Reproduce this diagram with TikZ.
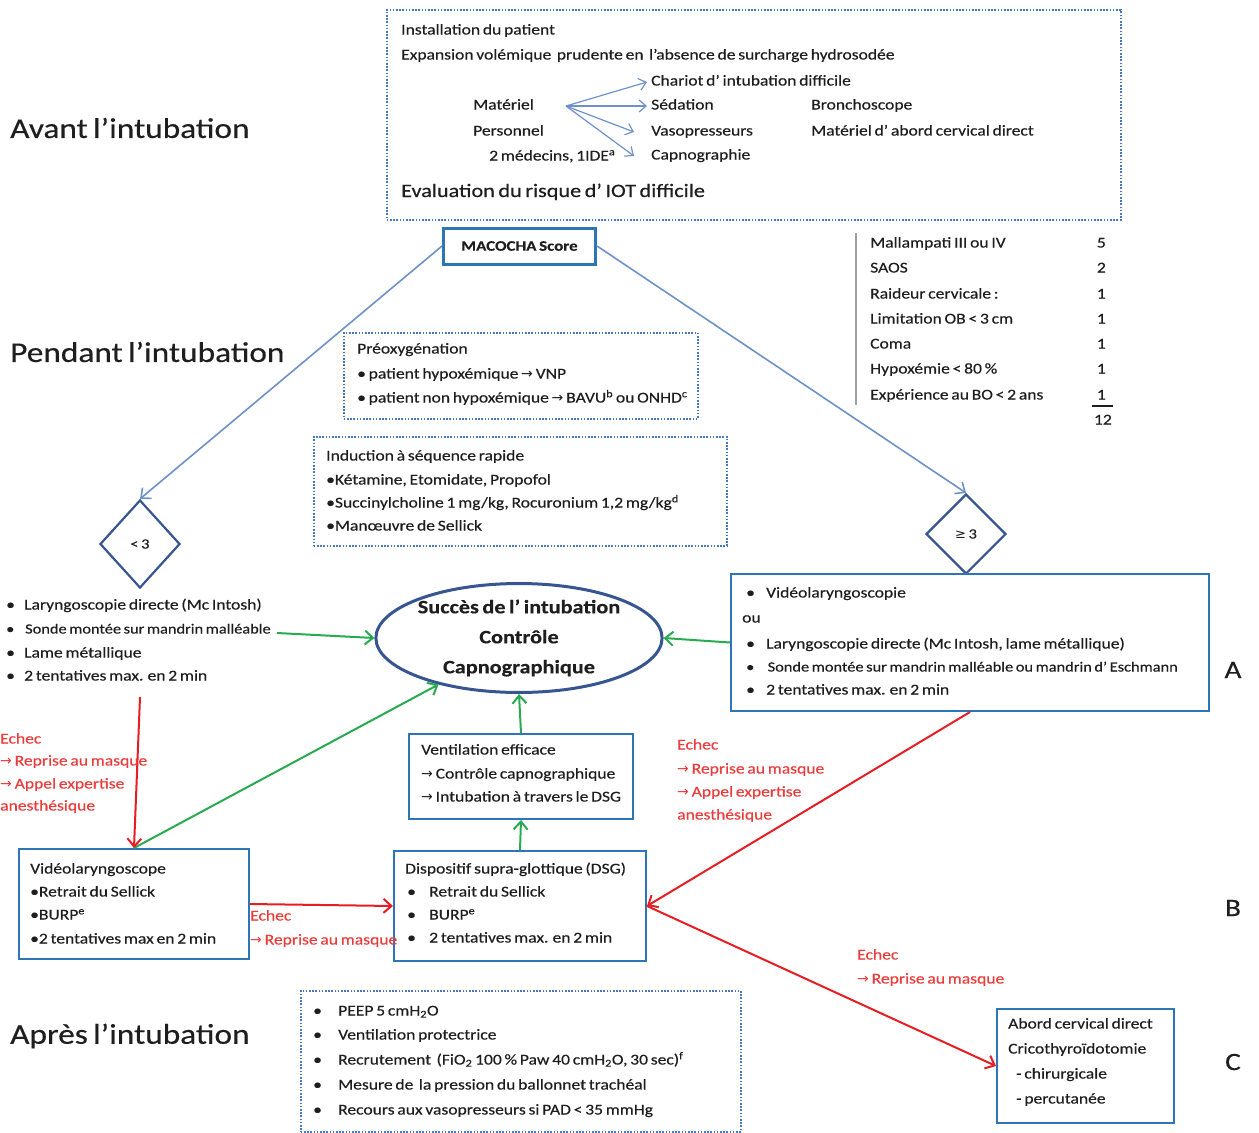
\documentclass[tikz,border=0pt]{standalone}
\usepackage{fontspec}
\setmainfont{Carlito}[FakeStretch=1.17,WordSpace=0.7,FakeBold=0.4]
\newfontfamily\dejavu{DejaVu Sans}
\usetikzlibrary{arrows.meta,shapes.geometric}
\definecolor{bxblue}{RGB}{46,117,182}
\definecolor{dotblue}{RGB}{70,120,195}
\definecolor{lnblue}{RGB}{110,145,200}
\definecolor{dkblue}{RGB}{55,85,145}
\definecolor{grn}{RGB}{40,170,80}
\definecolor{rd}{RGB}{230,30,35}
\definecolor{rdtxt}{RGB}{235,60,60}
\definecolor{txt}{RGB}{30,30,30}
\newcommand\myarr{{\dejavu\fontsize{14}{14}\selectfont →}}
\newcommand\bul[1]{\makebox[#1][l]{•}}
\newcommand\Tx[5][]{\node[tx,#1] (#2) at (#3,#4) {#5};}
\begin{document}
\begin{tikzpicture}[x=1pt,y=-1pt,
  tx/.style={anchor=west,inner sep=0pt,text height=10pt,text depth=3pt,text=txt,font=\fontsize{15}{17}\selectfont},
  hd/.style={anchor=west,inner sep=0pt,text=txt,font=\fontsize{28.5}{31}\selectfont},
  lab/.style={inner sep=0pt,text=txt,font=\fontsize{25}{27}\selectfont},
  red/.style={text=rdtxt},
  solidbox/.style={draw=bxblue,line width=2pt,rectangle,anchor=north west,inner sep=0pt},
  dotbox/.style={draw=dotblue,line width=1.6pt,dash pattern=on 1.6pt off 1.6pt,rectangle,anchor=north west,inner sep=0pt},
  dia/.style={draw=dkblue,line width=2.2pt,diamond,inner sep=0pt,text=txt,font=\fontsize{14}{15}\selectfont},
  lbarrow/.style={draw=lnblue,line width=1.2pt,-{Straight Barb[length=7pt,width=12pt]}},
  barrow/.style={draw=lnblue,line width=1.6pt,-{Straight Barb[length=8pt,width=14pt]}},
  garrow/.style={draw=grn,line width=2pt,-{Straight Barb[length=8pt,width=14pt]}},
  rarrow/.style={draw=rd,line width=2pt,-{Straight Barb[length=8pt,width=14pt]}}]
\useasboundingbox (0,0) rectangle (1259,1133);

% headings
\node[hd] (h1) at (10,128) {Avant l’intubation};
\node[hd] (h2) at (10,352) {Pendant l’intubation};
\node[hd] (h3) at (10,1036) {Après l’intubation};
\node[lab] (la) at (1233,670) {A};
\node[lab] (lb) at (1233,908) {B};
\node[lab] (lc) at (1233,1062) {C};

% top dotted box
\node[dotbox,minimum width=734pt,minimum height=210pt] (topbox) at (386,9) {};
\Tx{t1}{401}{31}{Installation du patient}
\Tx{t2}{401}{56}{Expansion volémique\ \ prudente en\ \ l’absence de surcharge hydrosodée}
\Tx{t3}{473}{106}{Matériel}
\Tx{t4}{473}{132}{Personnel}
\Tx{t5}{489}{157}{2 médecins, 1IDE\textsuperscript{a}}
\Tx{t6}{651}{82}{Chariot d’ intubation difficile}
\Tx{t7}{651}{106}{Sédation}
\Tx{t8}{651}{132}{Vasopresseurs}
\Tx{t9}{651}{156}{Capnographie}
\Tx{t10}{811}{106}{Bronchoscope}
\Tx{t11}{811}{132}{Matériel d’ abord cervical direct}
\Tx[font=\fontsize{19}{21}\selectfont,text height=14pt,text depth=4pt]{t12}{401}{192}{Evaluation du risque d’ IOT difficile}
\coordinate (fork) at (566,106);
\draw[lbarrow] (fork) -- ([xshift=-4pt]t6.west);
\draw[lbarrow] (fork) -- ([xshift=-4pt]t7.west);
\draw[lbarrow] (fork) -- ([xshift=-17pt]t8.west);
\draw[lbarrow] (fork) -- ([xshift=-17pt]t9.west);

% MACOCHA
\node[draw=bxblue,line width=3pt,minimum width=152pt,minimum height=36pt,inner sep=0pt,text=txt,font=\fontsize{14.5}{16}\selectfont\bfseries] (mac) at (519.5,246) {MACOCHA Score};
\draw[gray!75,line width=1.2pt] (856,233) -- (856,405);
\Tx{m1}{870}{244}{Mallampati III ou IV}
\Tx{m2}{870}{269}{SAOS}
\Tx{m3}{870}{295}{Raideur cervicale :}
\Tx{m4}{870}{320}{Limitation OB < 3 cm}
\Tx{m5}{870}{345}{Coma}
\Tx{m6}{870}{370}{Hypoxémie < 80 \%}
\Tx{m7}{870}{396}{Expérience au BO < 2 ans}
\Tx[anchor=east]{v1}{1106}{244}{5}
\Tx[anchor=east]{v2}{1106}{269}{2}
\Tx[anchor=east]{v3}{1106}{295}{1}
\Tx[anchor=east]{v4}{1106}{320}{1}
\Tx[anchor=east]{v5}{1106}{345}{1}
\Tx[anchor=east]{v6}{1106}{370}{1}
\Tx[anchor=east]{v7}{1106}{396}{1}
\draw[txt,line width=1.2pt] (1092,406) -- (1113,406);
\Tx[anchor=east]{v8}{1112}{421}{12}

% diamonds
\node[dia,minimum width=80pt,minimum height=88pt] (d1) at (140,544) {< 3};
\node[dia,minimum width=80pt,minimum height=80pt] (d2) at (966,534) {{\dejavu\fontsize{13}{14}\selectfont ≥} 3};
\draw[barrow] (mac.west) -- (d1.north);
\draw[barrow] (mac.east) -- (d2.north);

% preoxygenation
\node[dotbox,minimum width=354pt,minimum height=86pt] (preox) at (343,332) {};
\Tx{p1}{357}{350}{Préoxygénation}
\Tx{p2}{357}{375}{• patient hypoxémique \myarr\ VNP}
\Tx{p3}{357}{399}{• patient non hypoxémique \myarr\ BAVU\textsuperscript{b} ou ONHD\textsuperscript{c}}

% induction
\node[dotbox,minimum width=413pt,minimum height=109pt] (induc) at (313,436) {};
\Tx{i1}{326}{457}{Induction à séquence rapide}
\Tx{i2}{326}{481}{•Kétamine, Etomidate, Propofol}
\Tx{i3}{326}{504}{•Succinylcholine 1 mg/kg, Rocuronium 1,2 mg/kg\textsuperscript{d}}
\Tx{i4}{326}{527}{•Manœuvre de Sellick}

% left list
\Tx{l1}{6}{606}{\bul{18pt}Laryngoscopie directe (Mc Intosh)}
\Tx[font=\fontsize{14}{16}\selectfont]{l2}{6}{630}{\bul{19pt}Sonde montée sur mandrin malléable}
\Tx{l3}{6}{654}{\bul{18pt}Lame métallique}
\Tx{l4}{6}{677}{\bul{18pt}2 tentatives max. en 2 min}

% ellipse
\node[ellipse,draw=dkblue,line width=3pt,minimum width=208pt,minimum height=102pt,inner sep=0pt,align=center,text=txt,font=\fontsize{19}{30}\selectfont\bfseries] (ell) at (519,638) {Succès de l’ intubation\\Contrôle\\Capnographique};

% box A
\node[solidbox,minimum width=478pt,minimum height=137pt] (boxA) at (730,573) {};
\Tx{a1}{746}{594}{\bul{20pt}Vidéolaryngoscopie}
\Tx{a2}{742}{619}{ou}
\Tx{a3}{746}{645}{\bul{20pt}Laryngoscopie directe (Mc Intosh, lame métallique)}
\Tx[font=\fontsize{14}{16}\selectfont]{a4}{746}{668}{\bul{21.5pt}Sonde montée sur mandrin malléable ou mandrin d’ Eschmann}
\Tx{a5}{746}{691}{\bul{20pt}2 tentatives max. en 2 min}

% ventilation box
\node[solidbox,minimum width=224pt,minimum height=85pt] (vent) at (408,733) {};
\Tx{w1}{421}{751}{Ventilation efficace}
\Tx{w2}{421}{775}{\myarr\ Contrôle capnographique}
\Tx{w3}{421}{798}{\myarr\ Intubation à travers le DSG}

% videolaryngoscope box
\node[solidbox,minimum width=230pt,minimum height=110pt] (vl) at (18,848) {};
\Tx{vl1}{30}{870}{Vidéolaryngoscope}
\Tx{vl2}{30}{893}{•Retrait du Sellick}
\Tx{vl3}{30}{916}{•BURP\textsuperscript{e}}
\Tx{vl4}{30}{940}{•2 tentatives max en 2 min}

% DSG box
\node[solidbox,minimum width=252pt,minimum height=110pt] (dsg) at (393,850) {};
\Tx{g1}{405}{870}{Dispositif supra-glottique (DSG)}
\Tx{g2}{407}{893}{\bul{22pt}Retrait du Sellick}
\Tx{g3}{407}{916}{\bul{22pt}BURP\textsuperscript{e}}
\Tx{g4}{407}{939}{\bul{22pt}2 tentatives max. en 2 min}

% C box
\node[solidbox,minimum width=177pt,minimum height=114pt] (cbox) at (996,1008) {};
\Tx{c1}{1008}{1025}{Abord cervical direct}
\Tx{c2}{1008}{1050}{Cricothyroïdotomie}
\Tx{c3}{1016}{1075}{- chirurgicale}
\Tx{c4}{1016}{1100}{- percutanée}

% bottom dotted box
\node[dotbox,minimum width=440pt,minimum height=141pt] (after) at (300,990) {};
\Tx{b1}{313}{1012}{\bul{25pt}PEEP 5 cmH\textsubscript{2}O}
\Tx{b2}{313}{1036}{\bul{25pt}Ventilation protectrice}
\Tx{b3}{313}{1061}{\bul{25pt}Recrutement\ \ (FiO\textsubscript{2} 100 \% Paw 40 cmH\textsubscript{2}O, 30 sec)\textsuperscript{f}}
\Tx{b4}{313}{1086}{\bul{25pt}Mesure de\ \ la pression du ballonnet trachéal}
\Tx{b5}{313}{1111}{\bul{25pt}Recours aux vasopresseurs si PAD < 35 mmHg}

% green arrows
\coordinate (llend) at (277,633);
\draw[garrow] (llend) -- (ell.west);
\draw[garrow] (boxA.west) -- (ell.east);
\draw[garrow] (vl.north) -- (ell.210);
\draw[garrow] (vent.north) -- (ell.south);
\draw[garrow] (dsg.north) -- (vent.south);

% red arrows
\coordinate (llbot) at (140,697);
\draw[rarrow] (llbot) -- (vl.north);
\draw[rarrow] (vl.east) -- (dsg.west);
\draw[rarrow] (boxA.south) -- (dsg.east);
\draw[rarrow] (dsg.east) -- (cbox.west);

% red texts
\Tx[red]{r1}{0}{740}{Echec}
\Tx[red]{r2}{0}{762}{\myarr\ Reprise au masque}
\Tx[red]{r3}{0}{785}{\myarr\ Appel expertise}
\Tx[red]{r4}{0}{807}{anesthésique}
\Tx[red]{r5}{250}{917}{Echec}
\Tx[red]{r6}{250}{941}{\myarr\ Reprise au masque}
\Tx[red]{r7}{677}{746}{Echec}
\Tx[red]{r8}{677}{770}{\myarr\ Reprise au masque}
\Tx[red]{r9}{677}{793}{\myarr\ Appel expertise}
\Tx[red]{r10}{677}{816}{anesthésique}
\Tx[red]{r11}{857}{956}{Echec}
\Tx[red]{r12}{857}{980}{\myarr\ Reprise au masque}
\end{tikzpicture}
\end{document}
